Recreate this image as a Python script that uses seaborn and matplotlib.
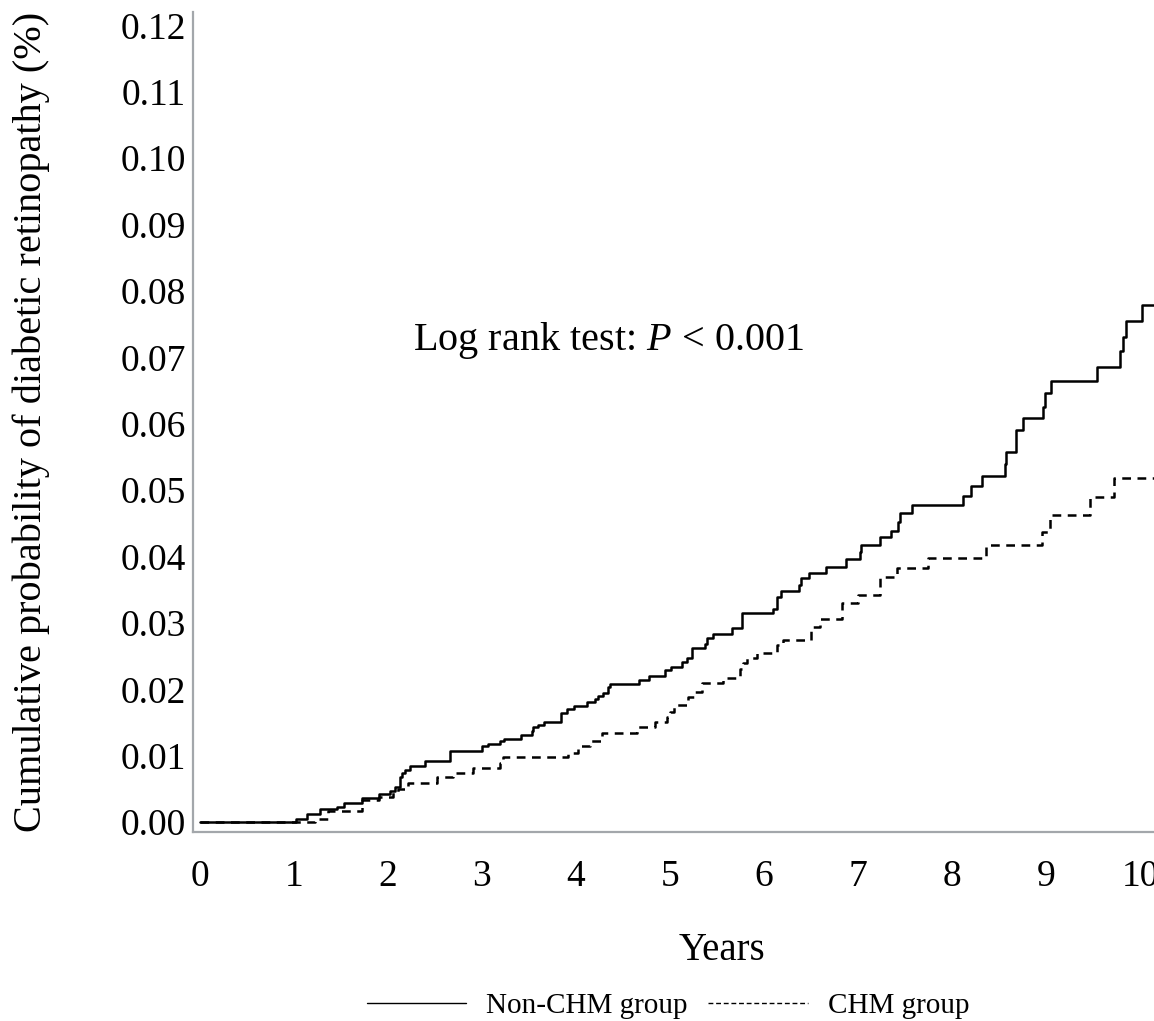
import matplotlib
matplotlib.use("Agg")
import matplotlib.pyplot as plt
from matplotlib.lines import Line2D
from matplotlib.ticker import MultipleLocator, FormatStrFormatter
import seaborn as sns
import pandas as pd

# Kaplan-Meier style cumulative incidence (event times in years, cumulative probability)
non_chm_years = [0, 1.02, 1.14, 1.28, 1.46, 1.53, 1.72, 1.91, 2.02, 2.07,
                 2.13, 2.15, 2.18, 2.23, 2.39, 2.66, 3.00, 3.06, 3.19, 3.23,
                 3.42, 3.53, 3.54, 3.60, 3.66, 3.84, 3.90, 3.98, 4.12, 4.20,
                 4.23, 4.29, 4.34, 4.36, 4.67, 4.78, 4.95, 5.01, 5.13, 5.18,
                 5.23, 5.37, 5.39, 5.46, 5.66, 5.77, 6.10, 6.14, 6.18, 6.37,
                 6.39, 6.48, 6.66, 6.87, 7.02, 7.03, 7.23, 7.35, 7.43, 7.45,
                 7.57, 8.12, 8.20, 8.32, 8.56, 8.57, 8.68, 8.76, 8.97, 8.99,
                 9.05, 9.54, 9.79, 9.82, 9.85, 10.02, 10.15]
non_chm_prob = [0, .0005, .0012, .0020, .0023, .0029, .0036, .0042, .0047, .0053,
                .0068, .0074, .0078, .0084, .0092, .0107, .0114, .0117, .0122, .0125,
                .0131, .0137, .0143, .0146, .0151, .0164, .0170, .0175, .0181, .0185,
                .0190, .0194, .0203, .0208, .0214, .0220, .0229, .0233, .0241, .0247,
                .0262, .0268, .0277, .0283, .0292, .0315, .0321, .0339, .0348, .0357,
                .0367, .0375, .0384, .0396, .0407, .0417, .0429, .0438, .0452, .0465,
                .0477, .0491, .0506, .0521, .0540, .0557, .0590, .0608, .0625, .0646,
                .0664, .0685, .0709, .0730, .0755, .0779, .0779]

chm_years = [0, 1.22, 1.36, 1.72, 1.90, 2.05, 2.11, 2.21, 2.52, 2.69,
             2.90, 3.19, 3.22, 3.92, 4.02, 4.15, 4.28, 4.65, 4.84, 4.97,
             5.00, 5.04, 5.19, 5.27, 5.34, 5.56, 5.74, 5.78, 5.82, 5.93,
             6.14, 6.20, 6.50, 6.60, 6.83, 7.00, 7.23, 7.41, 7.74, 8.36,
             8.96, 9.04, 9.47, 9.72, 10.15]
chm_prob = [0, .0005, .0016, .0033, .0038, .0045, .0050, .0059, .0068, .0074,
            .0081, .0089, .0098, .0104, .0114, .0122, .0134, .0143, .0151, .0158,
            .0166, .0176, .0189, .0196, .0209, .0217, .0230, .0240, .0247, .0255,
            .0267, .0274, .0294, .0306, .0330, .0342, .0369, .0383, .0398, .0417,
            .0437, .0462, .0490, .0518, .0518]

group_labels = ["Non-CHM group", "CHM group"]
y_ticks = [0.00, 0.01, 0.02, 0.03, 0.04, 0.05, 0.06, 0.07, 0.08, 0.09, 0.10, 0.11, 0.12]
x_ticks = [0, 1, 2, 3, 4, 5, 6, 7, 8, 9, 10]

assert len(non_chm_years) == len(non_chm_prob)
assert len(chm_years) == len(chm_prob)

df = pd.concat([
    pd.DataFrame({"Years": non_chm_years, "Prob": non_chm_prob, "Group": group_labels[0]}),
    pd.DataFrame({"Years": chm_years, "Prob": chm_prob, "Group": group_labels[1]}),
], ignore_index=True)

sns.set_theme(style="white")
plt.rcParams["font.family"] = ["Liberation Serif", "DejaVu Serif"]
plt.rcParams["mathtext.fontset"] = "custom"
plt.rcParams["mathtext.rm"] = "Liberation Serif"
plt.rcParams["mathtext.it"] = "Liberation Serif:italic"
plt.rcParams["text.color"] = "black"
plt.rcParams["axes.labelcolor"] = "black"

fig = plt.figure(figsize=(11.54, 10.21), dpi=100)
ax = fig.add_axes([0.1672, 0.1851, 0.8328, 0.8031])

sns.lineplot(data=df[df["Group"] == group_labels[0]], x="Years", y="Prob",
             ax=ax, color="black", lw=1.8, drawstyle="steps-post",
             estimator=None, legend=False)
sns.lineplot(data=df[df["Group"] == group_labels[1]], x="Years", y="Prob",
             ax=ax, color="black", lw=1.8, drawstyle="steps-post",
             estimator=None, legend=False)
ax.lines[1].set_dashes((3.5, 2.6))

ax.set_xlim(-0.0745, 10.149)
ax.set_ylim(-0.0015, 0.122)

spine_grey = "#a3a7ab"
for side in ("top", "right"):
    ax.spines[side].set_visible(False)
for side in ("left", "bottom"):
    ax.spines[side].set_color(spine_grey)
    ax.spines[side].set_linewidth(1.6)

ax.set_xticks(x_ticks)
ax.set_yticks(y_ticks)
ax.xaxis.set_minor_locator(MultipleLocator(0.2))
ax.yaxis.set_minor_locator(MultipleLocator(0.002))
ax.yaxis.set_major_formatter(FormatStrFormatter("%.2f"))
ax.tick_params(axis="both", which="major", direction="out", length=7,
               width=1.2, color=spine_grey, labelsize=27, labelcolor="black")
ax.tick_params(axis="both", which="minor", direction="out", length=4,
               width=1.2, color=spine_grey)
ax.tick_params(axis="x", which="major", pad=13)
ax.tick_params(axis="y", which="major", pad=-2)

ax.set_xlabel("Years", fontsize=28)
ax.xaxis.set_label_coords(0.55, -0.144)
ax.xaxis.label.set_va("center")
ax.set_ylabel("Cumulative probability of diabetic retinopathy (%)", fontsize=29)
ax.yaxis.set_label_coords(-0.168, 0.5)
ax.yaxis.label.set_va("center")

ax.text(4.35, 0.0726, r"Log rank test: $P$ < 0.001", fontsize=29,
        ha="center", va="center")

handles = [Line2D([], [], color="black", lw=1.0),
           Line2D([], [], color="black", lw=1.0, dashes=(3.5, 2.0))]
fig.legend(handles, group_labels, loc="center", bbox_to_anchor=(0.579, 0.015),
           ncol=2, frameon=False, fontsize=21, handlelength=3.4,
           handletextpad=0.7, columnspacing=0.7)

fig.savefig("out.png", dpi=100)
